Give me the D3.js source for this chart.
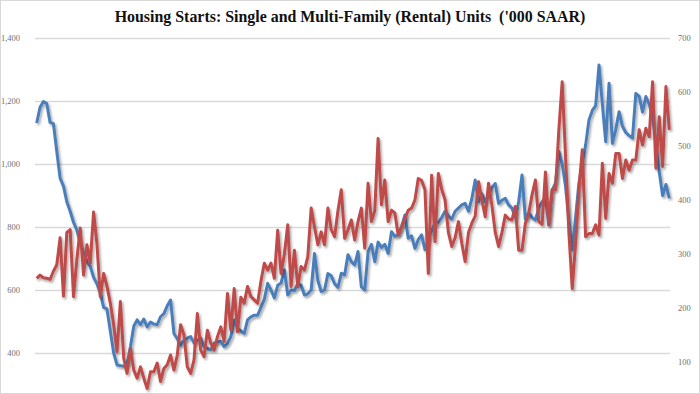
<!DOCTYPE html>
<html>
<head>
<meta charset="utf-8">
<script src="https://cdn.jsdelivr.net/npm/d3@7"></script>
<style>
  html, body { margin: 0; padding: 0; background: #fff; }
  svg { display: block; }
  .tick text { font-family: "Liberation Serif", "DejaVu Serif", serif; font-size: 8.5px; fill: #6f6f6f; }
</style>
</head>
<body>
<div id="chart"></div>
<script>
// single-family starts ('000 SAAR), left axis
const singleFamily = [
  1130, 1180, 1198, 1192, 1132, 1128, 1040, 955, 930, 880,
  850, 815, 790, 750, 720, 690, 675, 640, 620, 590,
  545, 540, 470, 400, 362, 360, 358, 365, 420, 485,
  505, 490, 508, 483, 498, 492, 490, 515, 525, 550,
  568, 462, 445, 425, 440, 447, 452, 432, 440, 447,
  420, 415, 410, 431, 435, 437, 420, 430, 452, 505,
  478, 470, 462, 505, 515, 520, 520, 545, 570, 621,
  600, 575, 615, 622, 664, 584, 600, 598, 620, 615,
  584, 588, 600, 716, 630, 595, 600, 652, 645, 620,
  608, 653, 648, 712, 690, 680, 722, 610, 600, 720,
  745, 690, 752, 735, 745, 716, 785, 770, 775, 800,
  838, 764, 772, 732, 760, 775, 728, 760, 790, 812,
  815, 830, 850, 835, 825, 850, 860, 870, 875, 850,
  890, 949, 880, 905, 880, 900, 925, 938, 875, 885,
  891, 870, 860, 830, 880, 965, 825, 845, 830, 822,
  860, 880, 895, 806, 917, 940, 1040, 1000, 930, 820,
  727, 830, 940, 1005, 1060, 1140, 1170, 1185, 1314, 1190,
  1071, 1256, 1065, 1110, 1166, 1120, 1100, 1090, 1082, 1224,
  1215, 1165, 1214, 1190, 1150, 1066, 975, 900, 935, 891
];
// multi-family (rental) starts ('000 SAAR), right axis
const multiFamily = [
  255, 261, 256, 255, 253, 268, 280, 330, 222, 340,
  345, 221, 290, 348, 261, 317, 283, 378, 319, 221,
  264, 240, 209, 169, 119, 212, 107, 79, 125, 85,
  70, 91, 70, 51, 82, 82, 98, 64, 88, 95,
  113, 85, 113, 169, 150, 91, 79, 104, 190, 122,
  110, 159, 135, 122, 147, 165, 138, 227, 159, 236,
  156, 220, 209, 240, 221, 215, 209, 250, 283, 270,
  283, 255, 344, 264, 300, 354, 240, 307, 240, 277,
  270, 295, 385, 350, 317, 341, 317, 385, 345, 332,
  380, 419, 329, 345, 363, 326, 360, 385, 311, 431,
  360, 380, 514, 391, 437, 360, 381, 376, 335, 350,
  365, 381, 385, 400, 440, 436, 419, 264, 446, 323,
  449, 420, 400, 340, 314, 330, 360, 320, 286, 340,
  357, 370, 434, 400, 369, 431, 390, 340, 314, 340,
  372, 365, 363, 388, 307, 307, 357, 375, 410, 437,
  360, 355, 452, 354, 419, 419, 530, 619, 480, 340,
  236, 320, 420, 493, 332, 338, 338, 354, 335, 468,
  366, 449, 431, 486, 486, 440, 474, 455, 474, 474,
  530, 502, 533, 517, 619, 459, 554, 462, 610, 530
];
const leftTicks = [400, 600, 800, 1000, 1200, 1400];
const rightTicks = [100, 200, 300, 400, 500, 600, 700];
const chartTitle = "Housing Starts: Single and Multi-Family (Rental) Units\u00a0\u00a0('000 SAAR)";

const width = 700;
const height = 394;
const plotLeft = 35, plotRight = 670;
const lineLeft = 36.7, lineRight = 669.3;
const plotTop = 38, plotBottom = 416; // plot area runs past the bottom edge

const svg = d3.select("#chart").append("svg")
    .attr("width", width)
    .attr("height", height);

svg.append("rect")
    .attr("x", 0.5).attr("y", 0.5)
    .attr("width", width - 1).attr("height", height - 1)
    .attr("fill", "#fff")
    .attr("stroke", "#d9d9d9");

const defs = svg.append("defs");
const shadow = defs.append("filter")
    .attr("id", "shadow")
    .attr("x", "-5%").attr("y", "-5%")
    .attr("width", "110%").attr("height", "110%");
shadow.append("feDropShadow")
    .attr("dx", 1.5).attr("dy", 2)
    .attr("stdDeviation", 1)
    .attr("flood-color", "#000")
    .attr("flood-opacity", 0.35);

let x = d3.scaleLinear()
    .domain([0, singleFamily.length - 1])
    .range([lineLeft, lineRight]);
let yLeft = d3.scaleLinear()
    .domain([200, 1400])
    .range([plotBottom, plotTop]);
let yRight = d3.scaleLinear()
    .domain([0, 700])
    .range([plotBottom, plotTop]);

// left axis + gridlines
const leftAxis = svg.append("g")
    .attr("transform", `translate(${plotLeft},0)`)
    .call(d3.axisLeft(yLeft)
        .tickValues(leftTicks)
        .tickSize(-(plotRight - plotLeft))
        .tickPadding(15)
        .tickFormat(d3.format(",")));
leftAxis.select(".domain").remove();
leftAxis.selectAll(".tick line")
    .attr("stroke", "#d9d9d9")
    .attr("stroke-width", 1.5);

const rightAxis = svg.append("g")
    .attr("transform", `translate(${plotRight},0)`)
    .call(d3.axisRight(yRight)
        .tickValues(rightTicks)
        .tickSize(0)
        .tickPadding(8));
rightAxis.select(".domain").remove();

// title
const title = svg.append("text")
    .attr("x", width / 2)
    .attr("y", 22)
    .attr("text-anchor", "middle")
    .style("font-family", "'Liberation Serif', 'DejaVu Serif', serif")
    .style("font-weight", "bold")
    .style("font-size", "14px")
    .style("fill", "#111")
    .text(chartTitle);
// fit title to the reference width (~471px)
const tw = title.node().getComputedTextLength();
title.style("font-size", (14 * 471 / tw).toFixed(2) + "px");

const lineLeftGen = d3.line()
    .x((d, i) => x(i))
    .y(d => yLeft(d));
const lineRightGen = d3.line()
    .x((d, i) => x(i))
    .y(d => yRight(d));

svg.append("path")
    .datum(singleFamily)
    .attr("fill", "none")
    .attr("stroke", "#4a7ebb")
    .attr("stroke-width", 3)
    .attr("stroke-linejoin", "round")
    .attr("filter", "url(#shadow)")
    .attr("d", lineLeftGen);

svg.append("path")
    .datum(multiFamily)
    .attr("fill", "none")
    .attr("stroke", "#be4b48")
    .attr("stroke-width", 3)
    .attr("stroke-linejoin", "round")
    .attr("filter", "url(#shadow)")
    .attr("d", lineRightGen);
</script>
</body>
</html>
